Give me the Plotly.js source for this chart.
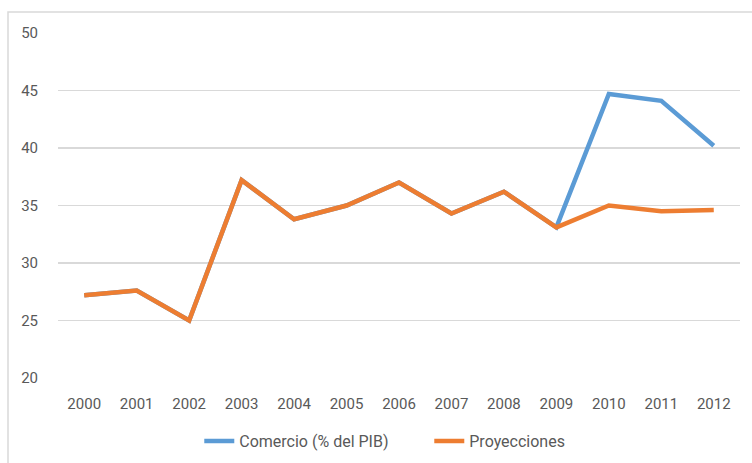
<!DOCTYPE html>
<html>
<head>
<meta charset="utf-8">
<script src="https://cdn.plot.ly/plotly-3.0.1.min.js"></script>
<style>html,body{margin:0;padding:0;background:#fff;}#chart{width:752px;height:463px;}</style>
</head>
<body>
<div id="chart"></div>
<script>
const years = ['2000','2001','2002','2003','2004','2005','2006','2007','2008','2009','2010','2011','2012'];
const comercio = [27.2, 27.6, 25.0, 37.2, 33.8, 35.0, 37.0, 34.3, 36.2, 33.1, 44.7, 44.1, 40.2];
const proyecciones = [27.2, 27.6, 25.0, 37.2, 33.8, 35.0, 37.0, 34.3, 36.2, 33.1, 35.0, 34.5, 34.6];
const yTicks = [20, 25, 30, 35, 40, 45, 50];

const font = 'Roboto, Arial, sans-serif';
const traces = [
  {x: years, y: comercio, type: 'scatter', mode: 'lines', name: 'Comercio (% del PIB)',
   line: {color: '#5B9BD5', width: 4.5}},
  {x: years, y: proyecciones, type: 'scatter', mode: 'lines', name: 'Proyecciones',
   line: {color: '#ED7D31', width: 4.5}}
];
const layout = {
  width: 752, height: 463,
  margin: {l: 58, r: 12, t: 33, b: 85, autoexpand: false},
  paper_bgcolor: '#fff', plot_bgcolor: '#fff',
  font: {family: font, size: 15, color: '#595959'},
  showlegend: true,
  legend: {orientation: 'h', xref: 'container', yref: 'container', x: 0.265, xanchor: 'left',
           y: (463 - 441) / 463, yanchor: 'middle',
           font: {family: font, size: 16, color: '#595959'}, entrywidth: 185, tracegroupgap: 0},
  xaxis: {type: 'category', range: [-0.5, 12.5], showgrid: false, zeroline: false, showline: false,
          ticks: 'outside', ticklen: 12, tickcolor: 'rgba(0,0,0,0)',
          tickfont: {family: font, size: 15, color: '#595959'}},
  yaxis: {range: [20, 50], tickvals: yTicks, showgrid: true, gridcolor: '#D9D9D9', gridwidth: 1.3,
          zeroline: false, showline: false, ticks: 'outside', ticklen: 16, tickcolor: 'rgba(0,0,0,0)',
          tickfont: {family: font, size: 15, color: '#595959'}},
  shapes: [{type: 'rect', xref: 'paper', yref: 'paper',
            x0: (8 - 58) / 682, x1: 1.2, y0: -0.5, y1: (378 - 12) / 345,
            line: {color: '#D9D9D9', width: 1.5}, fillcolor: 'rgba(0,0,0,0)', layer: 'below'}]
};
Plotly.newPlot('chart', traces, layout, {displayModeBar: false, staticPlot: true});
</script>
</body>
</html>
